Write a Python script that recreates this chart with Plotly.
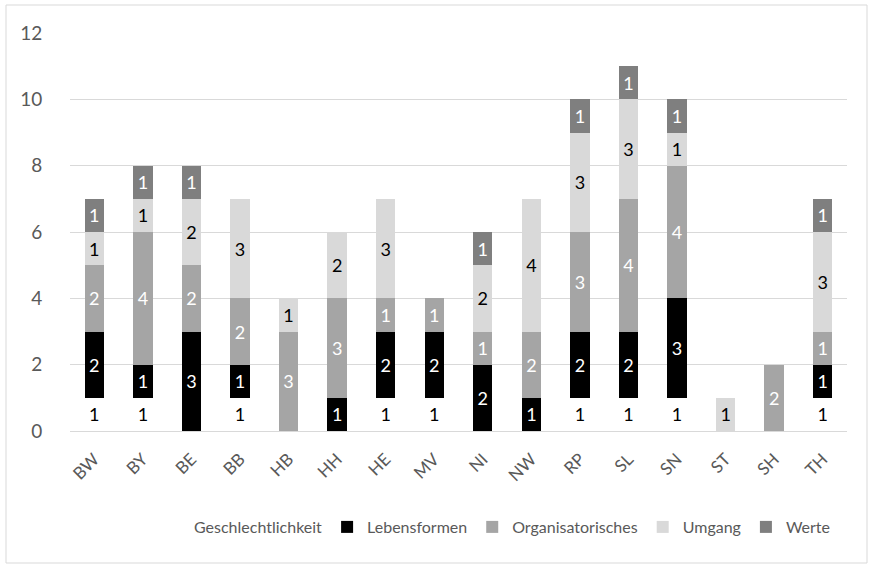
import plotly.graph_objects as go

categories = ["BW", "BY", "BE", "BB", "HB", "HH", "HE", "MV", "NI", "NW", "RP", "SL", "SN", "ST", "SH", "TH"]
geschlechtlichkeit = [1, 1, None, 1, None, None, 1, 1, None, None, 1, 1, 1, None, None, 1]
lebensformen = [2, 1, 3, 1, None, 1, 2, 2, 2, 1, 2, 2, 3, None, None, 1]
organisatorisches = [2, 4, 2, 2, 3, 3, 1, 1, 1, 2, 3, 4, 4, None, 2, 1]
umgang = [1, 1, 2, 3, 1, 2, 3, None, 2, 4, 3, 3, 1, 1, None, 3]
werte = [1, 1, 1, None, None, None, None, None, 1, None, 1, 1, 1, None, None, 1]

series = [
    ("Geschlechtlichkeit", geschlechtlichkeit, "#FFFFFF", "#000000"),
    ("Lebensformen", lebensformen, "#000000", "#FFFFFF"),
    ("Organisatorisches", organisatorisches, "#A5A5A5", "#FFFFFF"),
    ("Umgang", umgang, "#D9D9D9", "#000000"),
    ("Werte", werte, "#7F7F7F", "#FFFFFF"),
]

FONT = "Lato"
fig = go.Figure()
for name, vals, color, tcolor in series:
    fig.add_trace(go.Bar(
        name=name, x=categories, y=vals,
        marker=dict(color=color, line=dict(width=0)),
        text=[("" if v is None else str(v)) for v in vals],
        textposition="inside", insidetextanchor="middle", textangle=0,
        insidetextfont=dict(color=tcolor, size=18, family=FONT),
        constraintext="none", cliponaxis=False, hoverinfo="skip",
    ))

fig.update_layout(
    barmode="stack", bargap=0.6,
    width=873, height=568,
    margin=dict(l=70, r=26, t=33, b=137, autoexpand=False),
    paper_bgcolor="white", plot_bgcolor="white",
    font=dict(family=FONT, color="#595959", size=16),
    legend=dict(orientation="h", x=(836 - 70) / 777, xanchor="right", y=(431 - 527) / 398, yanchor="middle",
                font=dict(size=16, color="#595959"), itemwidth=30, traceorder="normal",
                bgcolor="rgba(0,0,0,0)"),
    showlegend=True,
)
fig.update_yaxes(range=[0, 12], dtick=2, showgrid=True, gridcolor="#D9D9D9", gridwidth=1,
                 zeroline=True, zerolinecolor="#D9D9D9", zerolinewidth=1, automargin=False,
                 tickfont=dict(size=19, color="#595959"), ticks="outside", ticklen=23,
                 tickcolor="rgba(0,0,0,0)")
fig.update_xaxes(tickangle=-45, tickfont=dict(size=17, color="#595959"), showline=False, ticks="",
                 automargin=False, ticklabelstandoff=14)

fig.add_shape(type="rect", xref="paper", yref="paper",
              x0=-64 / 777, x1=1 + 20 / 777, y0=-132 / 398, y1=1 + 28 / 398,
              line=dict(color="#D9D9D9", width=1), fillcolor="rgba(0,0,0,0)", layer="below")

fig.write_html("out.html", config={"displayModeBar": False},
               post_script="document.body.style.margin='0';document.body.style.padding='0';")
